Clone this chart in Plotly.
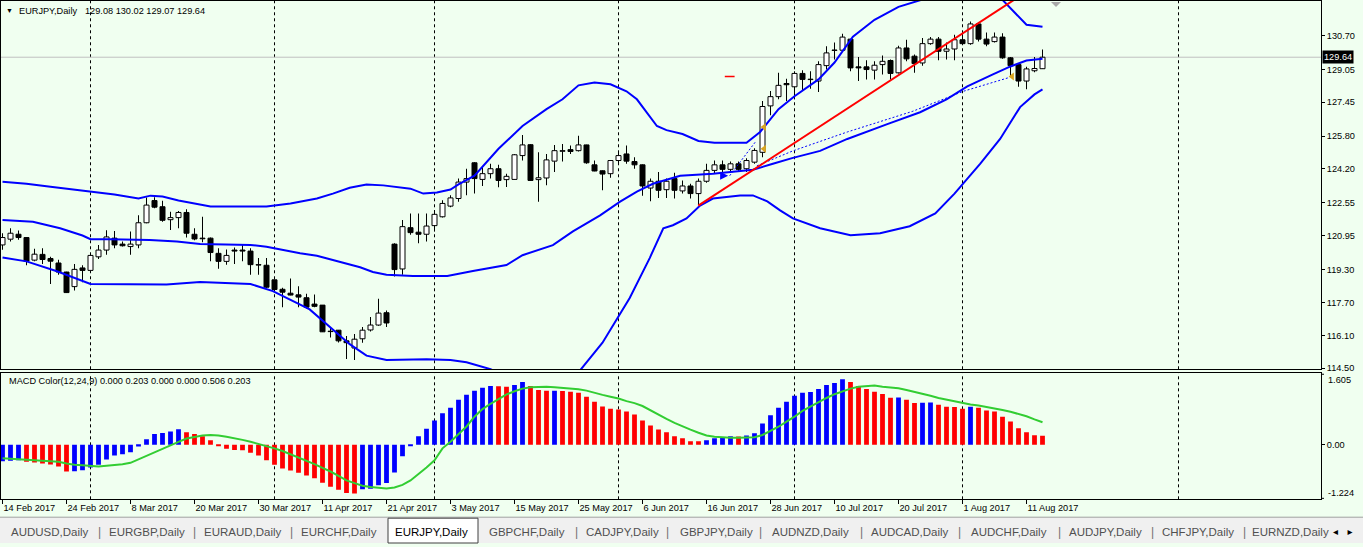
import plotly.graph_objects as go

W, H = 1363, 547

# ---------------- data ----------------
bar_index = list(range(131))
opens = [120.50,120.78,121.02,120.86,119.76,120.04,119.84,119.62,119.18,118.47,
         119.38,119.26,119.92,120.25,120.83,120.54,120.42,120.50,121.58,122.66,
         122.36,121.73,121.83,122.08,121.02,120.83,120.83,120.09,119.70,120.25,
         120.25,120.20,119.53,119.51,118.80,118.34,118.15,118.07,117.93,117.62,
         117.57,116.30,116.35,115.83,115.48,115.93,116.36,116.60,117.20,120.54,
         119.33,121.34,121.12,121.02,121.44,121.87,122.39,122.76,123.56,124.50,
         123.69,123.97,124.21,123.68,123.69,124.85,125.38,123.68,123.76,124.58,
         125.06,125.14,125.09,125.37,124.40,124.11,123.97,124.61,124.93,124.56,
         124.40,123.27,123.60,123.19,123.73,123.13,123.37,123.00,123.60,124.13,
         124.40,124.18,124.45,124.21,124.53,125.01,127.27,127.72,128.36,128.20,
         128.85,128.55,128.48,129.23,129.97,129.98,130.52,129.17,129.17,129.01,
         129.28,129.48,128.88,130.09,129.69,129.36,130.30,130.52,129.93,130.04,
         130.49,130.30,131.26,130.52,130.40,130.62,129.61,129.28,128.48,128.98,
         129.08]
highs = [121.07,121.31,121.20,120.88,120.31,120.34,119.92,119.78,119.20,119.57,
         119.51,120.01,120.50,121.21,121.18,120.67,121.15,121.95,122.81,122.82,
         122.65,122.12,122.15,122.24,121.31,121.87,120.86,120.34,120.28,120.38,
         120.50,120.34,119.86,119.86,118.81,118.41,118.86,118.49,118.12,118.09,
         117.58,116.51,116.36,116.07,116.16,116.51,116.99,117.88,117.31,120.58,
         121.71,122.03,122.03,122.03,122.20,122.68,122.92,123.73,124.21,124.52,
         124.29,124.45,124.40,123.97,124.93,125.85,125.40,125.01,124.93,125.37,
         125.42,125.34,125.82,125.38,124.61,124.13,124.64,125.01,125.34,124.77,
         124.41,123.73,124.05,123.73,124.02,123.64,123.48,123.73,124.45,124.61,
         124.61,124.56,124.56,124.72,125.21,127.51,128.00,128.88,128.59,128.96,
         129.01,128.96,129.44,130.17,130.36,130.78,130.53,129.65,129.49,129.44,
         129.72,129.53,130.20,130.49,129.77,130.57,130.62,130.62,130.36,130.73,
         130.89,131.38,131.33,130.84,130.84,130.81,129.65,129.33,129.17,129.65,
         130.02]
lows = [120.26,120.67,120.75,119.51,119.70,119.57,118.60,119.05,118.16,118.28,
        118.68,119.24,119.81,120.02,120.34,120.42,120.02,120.34,121.55,122.28,
        121.63,121.23,121.31,120.86,120.73,120.63,119.70,119.34,119.54,119.57,
        119.70,119.05,119.05,118.41,118.32,117.47,118.05,117.47,117.41,117.47,
        116.26,115.99,115.75,114.95,114.90,115.74,116.28,116.56,116.51,118.96,
        119.05,120.99,120.58,120.67,121.15,121.83,122.34,122.60,122.92,123.00,
        123.37,123.73,123.31,123.32,123.68,124.61,123.62,122.60,123.40,124.05,
        124.56,124.93,125.05,124.45,124.09,123.16,123.77,124.42,124.45,124.21,
        122.89,122.63,122.79,122.79,122.76,123.00,122.76,122.44,123.53,123.97,
        123.97,124.05,124.08,124.05,124.45,124.77,126.82,127.59,127.51,127.59,
        128.00,128.11,127.95,129.04,129.53,129.93,128.96,128.48,128.56,128.56,
        128.80,128.56,128.85,129.44,128.88,129.23,130.25,129.49,129.53,129.49,
        130.25,130.25,130.41,130.17,130.36,129.56,128.72,128.20,128.08,128.91,
        129.07]
closes = [120.86,121.07,120.86,119.70,120.05,119.79,119.71,119.18,118.18,119.31,
          119.26,119.99,120.25,120.89,120.50,120.46,120.54,121.58,122.44,122.34,
          121.70,121.83,122.08,121.07,120.79,120.80,120.13,119.70,119.99,120.20,
          120.20,119.54,119.52,118.44,118.33,118.20,118.06,117.96,117.47,117.51,
          116.27,116.28,115.83,115.74,115.91,116.35,116.60,117.18,116.70,119.30,
          121.39,121.10,121.02,121.42,121.99,122.52,122.79,123.56,123.73,123.73,
          123.97,124.21,123.64,123.84,124.89,125.37,123.64,123.77,124.64,125.09,
          125.09,125.05,125.37,124.50,124.10,123.95,124.61,124.85,124.58,124.40,
          123.37,123.60,123.16,123.60,123.16,123.37,123.00,123.60,124.13,124.40,
          124.18,124.45,124.18,124.61,125.10,127.24,127.72,128.27,128.30,128.85,
          128.56,128.57,129.28,129.85,129.99,130.62,129.12,129.12,129.04,129.25,
          129.44,128.85,130.09,129.56,129.33,130.30,130.52,129.93,130.04,130.49,
          130.30,131.26,130.52,130.28,130.62,129.61,129.23,128.48,129.07,129.09,
          129.64]

macd_hist = [-0.37,-0.36,-0.35,-0.38,-0.40,-0.42,-0.44,-0.49,-0.60,-0.595,
             -0.57,-0.51,-0.45,-0.33,-0.24,-0.21,-0.17,-0.04,0.125,0.24,
             0.265,0.30,0.35,0.28,0.24,0.19,0.10,-0.015,-0.09,-0.12,
             -0.125,-0.18,-0.24,-0.35,-0.45,-0.53,-0.58,-0.63,-0.69,-0.75,
             -0.85,-0.94,-1.01,-1.08,-1.095,-1.00,-0.985,-0.91,-0.86,-0.62,
             -0.26,-0.02,0.19,0.36,0.545,0.71,0.83,1.01,1.12,1.21,
             1.28,1.32,1.315,1.30,1.34,1.41,1.32,1.23,1.21,1.215,
             1.205,1.19,1.17,1.08,0.965,0.86,0.81,0.79,0.745,0.68,
             0.545,0.435,0.345,0.28,0.19,0.145,0.08,0.078,0.10,0.145,
             0.17,0.19,0.187,0.21,0.26,0.48,0.66,0.83,0.965,1.10,
             1.165,1.185,1.25,1.34,1.385,1.47,1.41,1.32,1.25,1.19,
             1.14,1.055,1.06,1.01,0.94,0.945,0.95,0.90,0.855,0.85,
             0.81,0.855,0.83,0.77,0.745,0.63,0.52,0.37,0.28,0.215,
             0.203]
macd_signal = [-0.30,-0.31,-0.325,-0.34,-0.345,-0.355,-0.36,-0.38,-0.42,-0.45,
               -0.46,-0.48,-0.49,-0.47,-0.46,-0.435,-0.405,-0.325,-0.25,-0.16,
               -0.09,-0.01,0.066,0.14,0.18,0.21,0.22,0.21,0.18,0.15,
               0.11,0.066,0.02,-0.02,-0.08,-0.14,-0.21,-0.29,-0.36,-0.435,
               -0.52,-0.60,-0.70,-0.80,-0.86,-0.92,-0.95,-0.97,-0.98,-0.96,
               -0.90,-0.80,-0.66,-0.51,-0.35,-0.08,0.066,0.23,0.41,0.63,
               0.80,0.92,1.03,1.13,1.20,1.26,1.29,1.30,1.30,1.29,
               1.28,1.27,1.245,1.215,1.16,1.12,1.08,1.04,0.98,0.935,
               0.87,0.77,0.68,0.58,0.49,0.41,0.34,0.27,0.21,0.18,
               0.16,0.155,0.155,0.155,0.17,0.22,0.31,0.405,0.52,0.63,
               0.76,0.86,0.965,1.05,1.135,1.20,1.26,1.30,1.32,1.33,
               1.30,1.28,1.27,1.23,1.19,1.14,1.10,1.05,1.01,0.97,
               0.935,0.905,0.88,0.85,0.82,0.78,0.74,0.69,0.64,0.57,
               0.506]

bb_upper_x = [0,3,6,11,14,17,18.5,20,22,26,30,33,36,39.3,41.3,43.4,45.5,47.6,51,52.6,
              54.3,56,57,59,62,65,68,70,72,74,76,78,79.3,81.8,83,85,87,89,93,94.7,
              97,99,102,104,106.3,109,112,115,118,121,123,125,127,128,130]
bb_upper = [123.58,123.48,123.33,123.10,122.95,122.76,122.90,122.86,122.66,122.37,
            122.37,122.37,122.52,122.76,123.00,123.28,123.44,123.40,123.24,123.00,
            123.05,123.20,123.45,123.87,125.18,126.29,127.11,127.59,128.27,128.41,
            128.32,127.98,127.59,126.29,126.09,125.90,125.56,125.47,125.47,126.00,
            127.11,127.74,128.56,129.38,130.64,131.46,132.09,132.43,132.81,133.00,
            132.81,132.43,131.60,131.22,131.12]
bb_mid_x = [0,3.8,7.2,10,11,13.4,18.4,21.8,24.7,31,33,34.3,37.2,39.3,41.3,44.7,46.3,48,
            51.3,55.6,58.8,63,65,68.8,71.3,74.7,77.2,79.3,81.3,83,84.7,88.8,93.8,96.3,
            98.8,102.2,105.6,110.6,114.7,118,120.6,123.8,126,128,130]
bb_mid = [121.71,121.63,121.31,120.96,120.78,120.78,120.74,120.67,120.55,120.50,
          120.41,120.31,120.10,119.97,119.77,119.41,119.18,119.05,118.99,118.99,
          119.23,119.52,120.00,120.49,121.16,121.94,122.61,123.10,123.48,123.68,
          123.87,123.97,124.16,124.45,124.74,125.08,125.66,126.38,126.96,127.59,
          128.22,128.80,129.19,129.48,129.57]
bb_lower_x = [0,3,6.8,11,20.5,24.7,31,33.8,38.4,40.5,43.4,45.5,48,53,56,58,61,64,67,70,
              72,75,77,78.4,80.9,82.6,83.8,85.5,87.2,88.8,92.2,93.8,95.6,97.2,98.8,
              102.2,106,109.7,113.4,116.6,119,122.2,124.7,127.2,129,130]
bb_lower = [119.89,119.70,119.22,118.60,118.57,118.70,118.60,118.25,117.36,116.64,
            115.67,115.11,114.90,114.94,114.90,114.79,114.45,113.90,113.50,113.60,
            114.30,115.74,117.05,117.92,119.86,121.31,121.46,121.79,122.42,122.76,
            122.91,122.91,122.62,122.18,121.79,121.31,120.97,121.07,121.41,122.03,
            123.00,124.45,125.66,127.21,127.83,128.07]

trend_x = [86.97, 127.5]
trend_y = [122.41, 132.70]
dash_long_x = [94.3, 98.8, 105.6, 113.8, 120.1, 125.9]
dash_long_y = [124.35, 125.08, 126.00, 127.01, 127.98, 128.66]
dash_short_x = [90.9, 94.1]
dash_short_y = [123.87, 125.51]
arrow_marks_x = [95.2, 95.2, 126.2]
arrow_marks_y = [126.24, 125.18, 128.70]

date_tick_bars = [0, 8, 16, 24, 32, 40, 48, 56, 64, 72, 80, 88, 96, 104, 112, 120, 128]
date_labels = ["14 Feb 2017", "24 Feb 2017", "8 Mar 2017", "20 Mar 2017", "30 Mar 2017",
               "11 Apr 2017", "21 Apr 2017", "3 May 2017", "15 May 2017", "25 May 2017",
               "6 Jun 2017", "16 Jun 2017", "28 Jun 2017", "10 Jul 2017", "20 Jul 2017",
               "1 Aug 2017", "11 Aug 2017"]
month_start_bars = [11, 34, 54, 77, 99, 120, 147]
price_ticks = [130.70, 129.05, 127.45, 125.80, 124.20, 122.55, 120.95, 119.30, 117.70, 116.10, 114.50]
last_price = 129.64
header_values = "129.08 130.02 129.07 129.64"
macd_label = "MACD Color(12,24,9) 0.000 0.203 0.000 0.000 0.506 0.203"
macd_top_label, macd_bottom_label = 1.605, -1.224
tab_names = ["AUDUSD,Daily", "EURGBP,Daily", "EURAUD,Daily", "EURCHF,Daily", "EURJPY,Daily",
             "GBPCHF,Daily", "CADJPY,Daily", "GBPJPY,Daily", "AUDNZD,Daily", "AUDCAD,Daily",
             "AUDCHF,Daily", "AUDJPY,Daily", "CHFJPY,Daily", "EURNZD,Daily"]
tab_centers_px = [50, 147, 243, 339, 432, 527, 622, 716, 810, 910, 1009, 1105, 1198, 1290]
tab_seps_px = [99, 195, 291, 576, 667, 761, 861, 959, 1059, 1152, 1244]

# ---------------- helpers ----------------
def fx(px):
    return px / W

def fy(py):
    return 1 - py / H

BG = "#F0FFF0"
FONT = "Liberation Sans, Arial, sans-serif"
FS = 9.2

fig = go.Figure()

# wicks (1px wide bars)
fig.add_trace(go.Bar(x=bar_index, y=[h - l for h, l in zip(highs, lows)], base=lows,
                     width=0.125, marker=dict(color="black", line=dict(width=0)),
                     xaxis="x", yaxis="y", hoverinfo="skip", showlegend=False))
# bodies
bull = [i for i in bar_index if closes[i] >= opens[i]]
bear = [i for i in bar_index if closes[i] < opens[i]]
for idx, fill in ((bull, "white"), (bear, "black")):
    fig.add_trace(go.Bar(
        x=idx,
        y=[max(abs(closes[i] - opens[i]), 0.02) for i in idx],
        base=[min(opens[i], closes[i]) for i in idx],
        width=0.625, marker=dict(color=fill, line=dict(color="black", width=1)),
        xaxis="x", yaxis="y", hoverinfo="skip", showlegend=False))

# Bollinger bands
for bx, by in ((bb_upper_x, bb_upper), (bb_mid_x, bb_mid), (bb_lower_x, bb_lower)):
    fig.add_trace(go.Scatter(x=bx, y=by, mode="lines", line=dict(color="#0000FF", width=2),
                             xaxis="x", yaxis="y", hoverinfo="skip", showlegend=False))

# drawn objects
fig.add_trace(go.Scatter(x=dash_long_x, y=dash_long_y, mode="lines",
                         line=dict(color="#0000FF", width=1, dash="2px,2px"),
                         xaxis="x", yaxis="y", showlegend=False, hoverinfo="skip"))
fig.add_trace(go.Scatter(x=dash_short_x, y=dash_short_y, mode="lines",
                         line=dict(color="#0000FF", width=1, dash="2px,2px"),
                         xaxis="x", yaxis="y", showlegend=False, hoverinfo="skip"))
fig.add_trace(go.Scatter(x=trend_x, y=trend_y, mode="lines", line=dict(color="#FF0000", width=2),
                         xaxis="x", yaxis="y", showlegend=False, hoverinfo="skip"))
fig.add_trace(go.Scatter(x=arrow_marks_x, y=arrow_marks_y, mode="markers",
                         marker=dict(symbol="triangle-left", size=7, color="#DAA520"),
                         xaxis="x", yaxis="y", showlegend=False, hoverinfo="skip"))
fig.add_trace(go.Scatter(x=[90.7], y=[123.87], mode="markers",
                         marker=dict(symbol="arrow-right", size=8, color="#0000FF"),
                         xaxis="x", yaxis="y", showlegend=False, hoverinfo="skip"))
fig.add_trace(go.Scatter(x=[90.9], y=[128.70], mode="markers",
                         marker=dict(symbol="line-ew", size=7, line=dict(color="#FF0000", width=1.5)),
                         xaxis="x", yaxis="y", showlegend=False, hoverinfo="skip"))

# MACD histogram
hist_colors = []
for i, v in enumerate(macd_hist):
    prev = macd_hist[i - 1] if i > 0 else v - 1
    hist_colors.append("#0000FF" if v > prev else "#FF0000")
fig.add_trace(go.Bar(x=bar_index, y=macd_hist, width=0.6,
                     marker=dict(color=hist_colors, line=dict(width=0)),
                     xaxis="x2", yaxis="y2", hoverinfo="skip", showlegend=False))
fig.add_trace(go.Scatter(x=bar_index, y=macd_signal, mode="lines",
                         line=dict(color="#32CD32", width=2),
                         xaxis="x2", yaxis="y2", hoverinfo="skip", showlegend=False))

# ---------------- layout ----------------
MAIN_TOP, MAIN_BOT = 1, 372
SUB_TOP, SUB_BOT = 376, 503
X_L, X_R = 1, 1321
xr = [(X_L - 2.5) / 8, (X_R - 2.5) / 8]
p_top = 130.70 + (35.7 - MAIN_TOP) / 20.69
p_bot = 130.70 - (MAIN_BOT - 35.7) / 20.69

axis_common = dict(showgrid=False, zeroline=False, showline=True, mirror=True,
                   linecolor="black", linewidth=1)

shapes = []
# month separators
for b in month_start_bars:
    for yr in ("y domain", "y2 domain"):
        shapes.append(dict(type="line", xref="x", yref=yr, x0=b, x1=b, y0=0, y1=1,
                           line=dict(color="black", width=1, dash="3px,3px"), layer="below"))
# current price line
shapes.append(dict(type="line", xref="x domain", yref="y", x0=0, x1=1, y0=last_price, y1=last_price,
                   line=dict(color="#C0C0C0", width=1), layer="below"))
# shift marker triangle
shapes.append(dict(type="path", xref="paper", yref="paper",
                   path=f"M {fx(1051)},{fy(2)} L {fx(1061)},{fy(2)} L {fx(1056)},{fy(7)} Z",
                   fillcolor="#A8A8A8", line=dict(width=0)))
# tab bar
shapes.append(dict(type="rect", xref="paper", yref="paper", x0=0, x1=1, y0=0, y1=fy(521),
                   fillcolor="#F0F0F0", line=dict(width=0)))
shapes.append(dict(type="line", xref="paper", yref="paper", x0=0, x1=1, y0=fy(521), y1=fy(521),
                   line=dict(color="#A0A0A0", width=1)))
shapes.append(dict(type="rect", xref="paper", yref="paper", x0=fx(388), x1=fx(478), y0=fy(547),
                   y1=fy(522), fillcolor="white", line=dict(color="#404040", width=1)))
# small tick marks for the MACD edge labels
for py in (SUB_TOP + 1, SUB_BOT - 1):
    shapes.append(dict(type="line", xref="paper", yref="paper", x0=fx(X_R), x1=fx(X_R + 3),
                       y0=fy(py), y1=fy(py), line=dict(color="black", width=1)))

annotations = []
annotations.append(dict(text="▼", x=fx(4), y=fy(11), xref="paper", yref="paper", xanchor="left",
                        yanchor="middle", showarrow=False, font=dict(size=7, color="black", family=FONT)))
annotations.append(dict(text="EURJPY,Daily", x=fx(17), y=fy(11), xref="paper", yref="paper",
                        xanchor="left", yanchor="middle", showarrow=False,
                        font=dict(size=FS, color="black", family=FONT)))
annotations.append(dict(text=header_values, x=fx(83), y=fy(11), xref="paper", yref="paper",
                        xanchor="left", yanchor="middle", showarrow=False,
                        font=dict(size=FS, color="black", family=FONT)))
annotations.append(dict(text=macd_label, x=fx(7), y=fy(384), xref="paper", yref="paper",
                        xanchor="left", yanchor="middle", showarrow=False,
                        font=dict(size=FS, color="black", family=FONT)))
# price label box
annotations.append(dict(text=f"{last_price:.2f}", x=fx(1322), y=last_price, xref="paper", yref="y",
                        xanchor="left", yanchor="middle", showarrow=False, bgcolor="black",
                        font=dict(size=FS, color="white", family=FONT), borderpad=1))
# MACD window edge labels (drawn inside the window edges, as the terminal does)
for val, py in ((macd_top_label, 382.3), (macd_bottom_label, 497)):
    annotations.append(dict(text=f"{val:.3f}", x=fx(1326), y=fy(py), xref="paper", yref="paper",
                            xanchor="left", yanchor="middle", showarrow=False,
                            font=dict(size=FS, color="black", family=FONT)))
# tabs
for name, cx in zip(tab_names, tab_centers_px):
    active = name == "EURJPY,Daily"
    annotations.append(dict(text=name, x=fx(cx), y=fy(536), xref="paper", yref="paper",
                            xanchor="center", yanchor="middle", showarrow=False,
                            font=dict(size=11.5, color="black" if active else "#505050",
                                      family=FONT)))
for sx in tab_seps_px:
    annotations.append(dict(text="|", x=fx(sx), y=fy(536), xref="paper", yref="paper",
                            xanchor="center", yanchor="middle", showarrow=False,
                            font=dict(size=12, color="#707070", family=FONT)))
annotations.append(dict(text="◂   ▸", x=fx(1343), y=fy(535), xref="paper", yref="paper",
                        xanchor="center", yanchor="middle", showarrow=False,
                        font=dict(size=10, color="black", family="DejaVu Sans")))

fig.update_layout(
    width=W, height=H,
    margin=dict(l=0, r=0, t=0, b=0),
    paper_bgcolor=BG, plot_bgcolor=BG,
    barmode="overlay", showlegend=False,
    font=dict(family=FONT, size=FS, color="black"),
    xaxis=dict(domain=[fx(X_L), fx(X_R)], range=xr, anchor="y", showticklabels=False,
               ticks="", **axis_common),
    yaxis=dict(domain=[fy(MAIN_BOT), fy(MAIN_TOP)], range=[p_bot, p_top], anchor="x", side="right",
               tickvals=price_ticks, ticktext=[f"{v:.2f}" for v in price_ticks],
               ticks="outside", ticklen=3, tickcolor="black",
               tickfont=dict(size=FS, family=FONT, color="black"), **axis_common),
    xaxis2=dict(domain=[fx(X_L), fx(X_R)], range=xr, anchor="y2", matches="x",
                tickvals=date_tick_bars, ticktext=date_labels, ticks="outside", ticklen=4,
                tickcolor="black", ticklabelposition="outside right",
                tickfont=dict(size=FS, family=FONT, color="black"), **axis_common),
    yaxis2=dict(domain=[fy(SUB_BOT), fy(SUB_TOP)], range=[macd_bottom_label, macd_top_label],
                anchor="x2", side="right",
                tickvals=[0], ticktext=["0.00"], ticks="outside", ticklen=3, tickcolor="black",
                tickfont=dict(size=FS, family=FONT, color="black"), **axis_common),
    shapes=shapes,
    annotations=annotations,
)

fig.write_html("out.html")
